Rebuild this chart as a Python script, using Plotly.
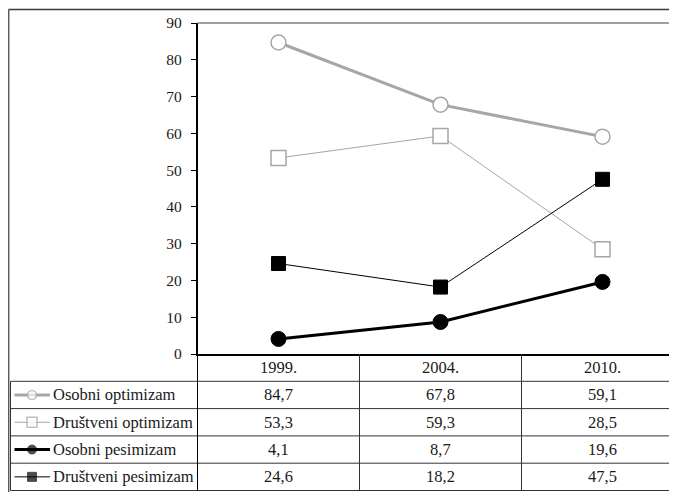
import plotly.graph_objects as go

# ---- data ----
years = ["1999.", "2004.", "2010."]
series_names = ["Osobni optimizam", "Društveni optimizam", "Osobni pesimizam", "Društveni pesimizam"]
osobni_optimizam = [84.7, 67.8, 59.1]
drustveni_optimizam = [53.3, 59.3, 28.5]
osobni_pesimizam = [4.1, 8.7, 19.6]
drustveni_pesimizam = [24.6, 18.2, 47.5]
table_labels = [
    ["84,7", "67,8", "59,1"],
    ["53,3", "59,3", "28,5"],
    ["4,1", "8,7", "19,6"],
    ["24,6", "18,2", "47,5"],
]
y_ticks = [0, 10, 20, 30, 40, 50, 60, 70, 80, 90]

W, H = 677, 492
OFF = 8  # page body margin offset
FONT = "Liberation Serif"
TXT = "#1a1a1a"

styles = [
    dict(line=dict(color="#A6A6A6", width=3), marker=dict(symbol="circle", color="white", line=dict(color="#A6A6A6", width=1.5))),
    dict(line=dict(color="#A6A6A6", width=1), marker=dict(symbol="square", color="white", line=dict(color="#A6A6A6", width=1.5))),
    dict(line=dict(color="black", width=3), marker=dict(symbol="circle", color="black", line=dict(color="black", width=1))),
    dict(line=dict(color="black", width=1), marker=dict(symbol="square", color="black", line=dict(color="black", width=1))),
]
values = [osobni_optimizam, drustveni_optimizam, osobni_pesimizam, drustveni_pesimizam]
main_sizes = [15, 15, 15, 14]
legend_sizes = [9, 10, 9, 9]

# geometry in screen pixels
ax_left = 197.5
cat_w = 162.0
x_top, x_bottom = 23.0, 354.0
row_lines = [354.0, 381.3, 408.6, 435.9, 463.2, 490.5]
col_lines = [ax_left, ax_left + cat_w, ax_left + 2 * cat_w]
table_left = 10.5
right_end = W + OFF + 5

fig = go.Figure()

for name, vals, st, sz in zip(series_names, values, styles, main_sizes):
    fig.add_trace(go.Scatter(
        x=years, y=vals, name=name, mode="lines+markers",
        line=st["line"],
        marker=dict(symbol=st["marker"]["symbol"], size=sz, color=st["marker"]["color"],
                    line=st["marker"]["line"]),
        xaxis="x", yaxis="y", showlegend=False, cliponaxis=False,
    ))

# legend samples in the table (pixel axis x2/y2)
for i, (name, st, sz) in enumerate(zip(series_names, styles, legend_sizes)):
    yc = (row_lines[i + 1] + row_lines[i + 2]) / 2
    fig.add_trace(go.Scatter(
        x=[14.5, 32, 50], y=[yc, yc, yc], mode="lines+markers",
        line=st["line"],
        marker=dict(symbol=st["marker"]["symbol"], size=[0, sz, 0], color=st["marker"]["color"],
                    line=st["marker"]["line"]),
        xaxis="x2", yaxis="y2", showlegend=False, hoverinfo="skip",
    ))

shapes = []
def hline(y, x0, x1, color="#333333", width=1):
    shapes.append(dict(type="line", xref="x2", yref="y2", x0=x0, x1=x1, y0=y, y1=y,
                       line=dict(color=color, width=width), layer="above"))
def vline(x, y0, y1, color="#333333", width=1):
    shapes.append(dict(type="line", xref="x2", yref="y2", x0=x, x1=x, y0=y0, y1=y1,
                       line=dict(color=color, width=width), layer="above"))

# outer frame (top and left visible)
hline(9.5, 8.5, right_end, color="#3a3a3a", width=1.5)
vline(8.7, 9.5, H + OFF + 5, color="#5a5a5a", width=1.5)
# plot area top border
hline(x_top, ax_left, right_end, color="#7f7f7f", width=1.5)
# table
for y in row_lines[1:]:
    hline(y, table_left, right_end)
vline(table_left, row_lines[1], row_lines[-1])
vline(ax_left, x_bottom, row_lines[-1], color="black")
for x in col_lines[1:]:
    vline(x, x_bottom, row_lines[-1])

annotations = []
for j, yr in enumerate(years):
    annotations.append(dict(xref="x2", yref="y2", x=ax_left + cat_w * (j + 0.5),
                            y=(row_lines[0] + row_lines[1]) / 2, text=yr, showarrow=False,
                            font=dict(family=FONT, size=16.5, color=TXT), xanchor="center", yanchor="middle"))
for i, name in enumerate(series_names):
    yc = (row_lines[i + 1] + row_lines[i + 2]) / 2
    annotations.append(dict(xref="x2", yref="y2", x=50.5, y=yc, text=name, showarrow=False,
                            font=dict(family=FONT, size=16.5, color=TXT), xanchor="left", yanchor="middle"))
    for j in range(3):
        annotations.append(dict(xref="x2", yref="y2", x=ax_left + cat_w * (j + 0.5), y=yc,
                                text=table_labels[i][j], showarrow=False,
                                font=dict(family=FONT, size=16.5, color=TXT), xanchor="center", yanchor="middle"))

fig.update_layout(
    template=None,
    width=W, height=H,
    margin=dict(l=0, r=0, t=0, b=0, pad=0, autoexpand=False),
    paper_bgcolor="white", plot_bgcolor="rgba(0,0,0,0)",
    xaxis=dict(domain=[(ax_left - OFF) / W, 1], type="category", categoryorder="array", categoryarray=years,
               range=[-0.5, -0.5 + (W + OFF - ax_left) / cat_w], showticklabels=False, ticks="",
               showgrid=False, zeroline=False, showline=True, linecolor="black", linewidth=1.5,
               fixedrange=True, automargin=False),
    yaxis=dict(domain=[(H - (x_bottom - OFF)) / H, (H - (x_top - OFF)) / H], range=[0, 90], tickvals=y_ticks,
               ticks="outside", ticklen=5, tickcolor="black", tickwidth=1, ticklabelstandoff=6,
               showgrid=False, zeroline=False, showline=True, linecolor="black", linewidth=1.5,
               tickfont=dict(family=FONT, size=15.5, color=TXT), fixedrange=True, automargin=False),
    xaxis2=dict(domain=[0, 1], range=[OFF, W + OFF], visible=False, fixedrange=True, automargin=False,
                anchor="y2"),
    yaxis2=dict(domain=[0, 1], range=[H + OFF, OFF], visible=False, fixedrange=True, anchor="x2",
                automargin=False),
    shapes=shapes, annotations=annotations,
    showlegend=False,
)

fig.write_html("out.html", config={"displayModeBar": False})
